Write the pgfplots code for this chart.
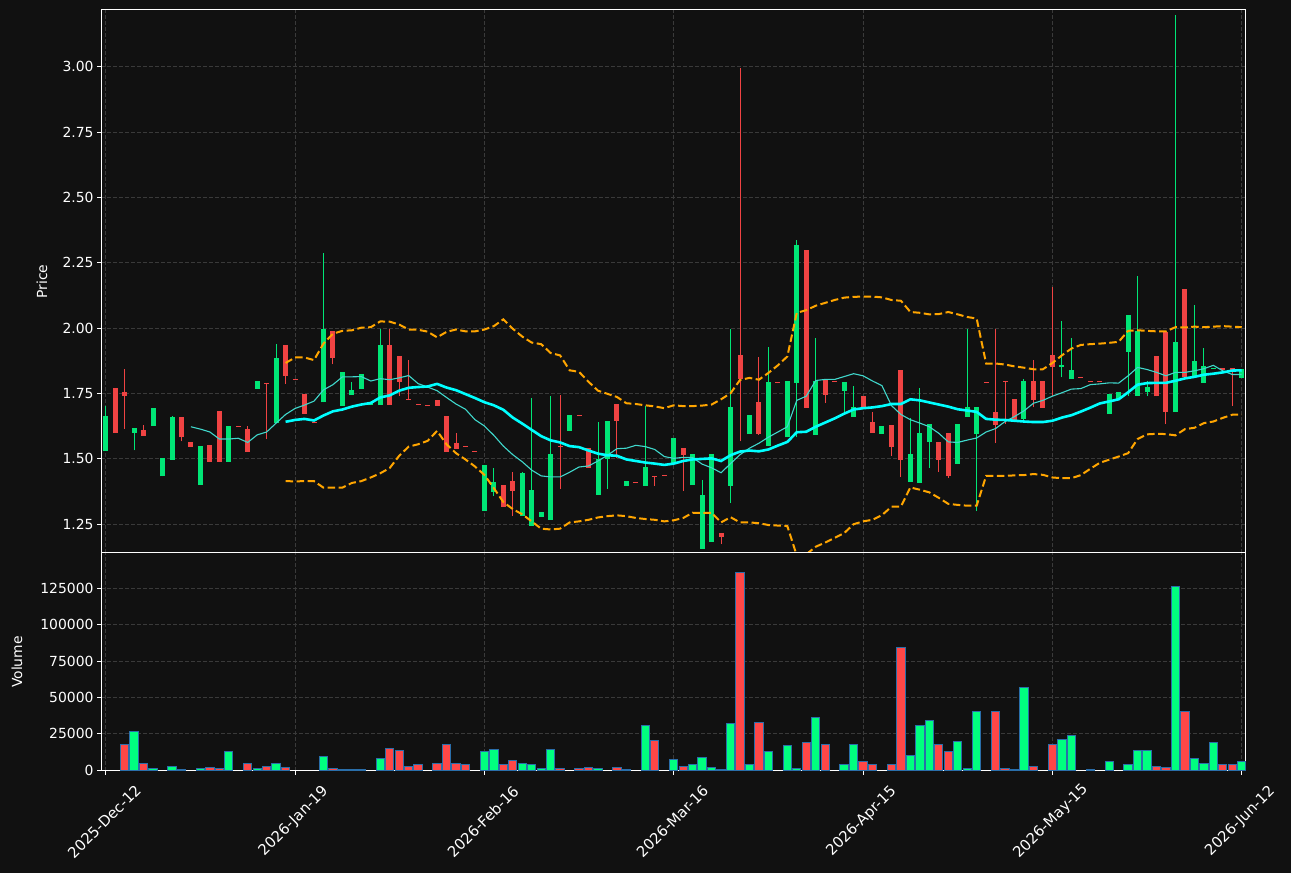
\documentclass[border=0pt]{standalone}
\usepackage{fontspec}
\setmainfont{DejaVu Sans}
\usepackage{pgfplots}
\usepackage{pgfplotstable}
\pgfplotsset{compat=1.18}
\definecolor{bg}{HTML}{111111}
\definecolor{upc}{HTML}{00E676}
\definecolor{dnc}{HTML}{F04343}
\definecolor{vup}{HTML}{00FF7F}
\definecolor{vdn}{HTML}{FF4747}
\definecolor{edge}{HTML}{2A6EAA}
\definecolor{gridc}{HTML}{3A3A3A}
\definecolor{smac}{HTML}{00FFFF}
\definecolor{sma10}{HTML}{40D8CC}
\definecolor{bandc}{HTML}{FFA500}

\pgfplotstableread{
x lo hi bot top
0 1.532 1.704 1.532 1.663
3 1.533 1.618 1.600 1.618
5 1.627 1.694 1.627 1.694
6 1.433 1.504 1.433 1.504
7 1.497 1.664 1.497 1.661
10 1.402 1.549 1.402 1.549
13 1.489 1.626 1.489 1.626
16 1.768 1.798 1.768 1.798
18 1.639 1.939 1.639 1.886
23 1.716 2.288 1.716 1.998
25 1.704 1.833 1.704 1.833
26 1.745 1.796 1.745 1.764
27 1.768 1.825 1.768 1.825
28 1.705 1.713 1.705 1.713
29 1.708 1.996 1.708 1.936
40 1.302 1.477 1.302 1.477
41 1.359 1.466 1.375 1.411
44 1.282 1.450 1.282 1.446
45 1.245 1.733 1.245 1.382
46 1.278 1.297 1.278 1.297
47 1.267 1.740 1.267 1.519
49 1.608 1.667 1.608 1.667
52 1.363 1.643 1.363 1.500
53 1.384 1.645 1.501 1.645
55 1.398 1.415 1.398 1.415
57 1.398 1.704 1.398 1.469
60 1.485 1.580 1.485 1.580
62 1.400 1.519 1.400 1.519
63 1.156 1.418 1.156 1.361
64 1.183 1.519 1.183 1.519
66 1.331 1.996 1.398 1.698
68 1.596 1.667 1.596 1.667
70 1.551 1.928 1.551 1.794
72 1.582 1.798 1.582 1.798
73 1.583 2.336 1.792 2.318
75 1.592 1.961 1.592 1.798
78 1.678 1.794 1.761 1.794
79 1.662 1.778 1.662 1.697
82 1.596 1.626 1.596 1.626
85 1.412 1.655 1.412 1.519
86 1.408 1.771 1.408 1.599
87 1.467 1.634 1.565 1.634
90 1.482 1.634 1.482 1.634
91 1.662 1.996 1.662 1.697
92 1.300 1.698 1.595 1.698
97 1.641 1.805 1.654 1.798
101 1.812 2.027 1.852 1.858
102 1.807 1.961 1.807 1.841
106 1.673 1.748 1.673 1.748
107 1.728 1.756 1.728 1.756
108 1.740 2.050 1.910 2.050
109 1.741 2.199 1.741 1.990
110 1.740 1.798 1.757 1.775
113 1.681 3.197 1.681 1.947
115 1.818 2.088 1.818 1.874
116 1.791 1.923 1.791 1.855
117 1.844 1.848 1.844 1.848
120 1.810 1.843 1.810 1.843
}\up

\pgfplotstableread{
x lo hi bot top
1 1.600 1.771 1.600 1.771
2 1.616 1.843 1.741 1.756
4 1.588 1.630 1.588 1.611
8 1.567 1.661 1.582 1.661
9 1.547 1.564 1.547 1.564
11 1.489 1.553 1.489 1.553
12 1.489 1.684 1.489 1.684
14 1.623 1.627 1.623 1.627
15 1.528 1.625 1.528 1.614
17 1.575 1.790 1.786 1.790
19 1.788 1.936 1.818 1.936
20 1.802 1.806 1.802 1.806
21 1.673 1.748 1.673 1.748
22 1.639 1.643 1.639 1.643
24 1.862 1.990 1.886 1.990
30 1.708 1.996 1.708 1.936
31 1.740 1.894 1.795 1.894
32 1.725 1.877 1.725 1.729
33 1.707 1.711 1.707 1.711
34 1.703 1.707 1.703 1.707
35 1.704 1.725 1.704 1.725
36 1.528 1.663 1.528 1.663
37 1.539 1.598 1.539 1.561
38 1.546 1.550 1.546 1.550
39 1.527 1.531 1.527 1.531
42 1.317 1.400 1.317 1.400
43 1.281 1.450 1.379 1.415
48 1.384 1.745 1.546 1.550
50 1.664 1.668 1.664 1.668
51 1.467 1.541 1.467 1.541
54 1.502 1.710 1.646 1.710
56 1.408 1.412 1.408 1.412
58 1.398 1.434 1.430 1.434
59 1.435 1.439 1.435 1.439
61 1.379 1.541 1.514 1.541
65 1.174 1.216 1.203 1.216
67 1.567 2.995 1.807 1.897
69 1.592 1.889 1.595 1.717
71 1.790 1.794 1.790 1.794
74 1.696 2.300 1.696 2.300
76 1.713 1.802 1.745 1.802
77 1.794 1.798 1.794 1.798
80 1.697 1.740 1.697 1.740
81 1.600 1.678 1.600 1.641
83 1.513 1.630 1.547 1.630
84 1.430 1.841 1.497 1.841
88 1.451 1.564 1.497 1.564
89 1.426 1.599 1.435 1.599
93 1.790 1.794 1.790 1.794
94 1.560 1.996 1.630 1.680
95 1.634 1.798 1.794 1.798
96 1.649 1.729 1.649 1.729
98 1.697 1.877 1.727 1.798
99 1.696 1.798 1.696 1.798
100 1.741 2.156 1.853 1.897
103 1.810 1.814 1.810 1.814
104 1.794 1.798 1.794 1.798
105 1.794 1.798 1.794 1.798
111 1.739 1.894 1.739 1.894
112 1.633 1.986 1.681 1.986
114 1.812 2.151 1.812 2.151
118 1.839 1.847 1.839 1.847
119 1.704 1.846 1.840 1.846
}\down

\pgfplotstableread{
x v
3 26360
5 1450
7 2900
10 1450
13 13060
16 1450
18 4840
23 9670
25 500
26 500
27 500
29 8220
40 12570
41 14500
44 4840
45 4110
46 1450
47 14020
52 1450
55 700
57 30470
60 7740
62 4110
63 8950
64 2200
66 32400
68 4110
70 12570
72 16680
73 1450
75 36510
78 4110
79 17900
85 10400
86 30470
87 33850
90 20070
91 1000
92 40140
97 56580
101 20800
102 24180
106 5800
108 4110
109 13780
110 13780
113 126200
115 8220
116 4840
117 19340
120 6290
}\volup

\pgfplotstableread{
x v
2 17900
4 4840
8 700
11 2200
12 1000
15 4840
17 2900
19 2200
24 1450
30 15230
31 13300
32 2900
33 3630
35 4350
36 17400
37 4350
38 3630
42 3630
43 7010
48 1450
50 1450
51 2200
54 2200
58 20310
61 2900
65 700
67 135900
69 33130
74 19340
76 17400
80 6290
81 3630
83 4110
84 84150
88 17400
89 12570
94 40620
95 1450
96 700
98 2900
100 17900
104 500
111 2900
112 2200
114 40140
118 3630
119 3630
}\voldown

\pgfplotsset{
  common/.style={
    scale only axis, width=1145pt,
    anchor=south west,
    xmin=-0.5, xmax=120.45,
    xtick={0,20,40,60,80,100,120},
    axis line style={white, line width=1pt},
    tick style={white, line width=0.9pt},
    tick align=outside, major tick length=4pt,
    xtick pos=left, ytick pos=left,
    grid=major,
    grid style={draw=gridc, dash pattern=on 4pt off 2pt, line width=0.9pt},
    tick label style={font=\fontsize{13.9}{16}\selectfont, text=white},
    label style={font=\fontsize{13.9}{16}\selectfont, text=white},
    /pgf/number format/assume math mode=true,
  },
  wick/.style={draw=none, mark=none, error bars/.cd, y dir=plus, y explicit, error mark=none,
    error bar style={draw=#1, line width=1pt}},
  body/.style={draw=none, mark=none, error bars/.cd, y dir=plus, y explicit, error mark=none,
    error bar style={draw=#1, line width=5pt}},
}

\begin{document}
\begin{tikzpicture}
\fill[bg] (0pt,0pt) rectangle (1291pt,873pt);

\begin{axis}[common, at={(101pt,320pt)}, height=543pt,
  ymin=1.140, ymax=3.2175,
  ytick={1.25,1.5,1.75,2,2.25,2.5,2.75,3},
  yticklabel style={/pgf/number format/.cd, fixed, fixed zerofill, precision=2},
  xticklabels={}, major x tick style={draw=none},
  ylabel={Price},
  ylabel style={at={(axis description cs:-0.0515,0.5)}, anchor=center},
]
\addplot[wick=upc] table[x=x, y=lo, y error expr=\thisrow{hi}-\thisrow{lo}] {\up};
\addplot[body=upc] table[x=x, y=bot, y error expr=\thisrow{top}-\thisrow{bot}] {\up};
\addplot[wick=dnc] table[x=x, y=lo, y error expr=\thisrow{hi}-\thisrow{lo}] {\down};
\addplot[body=dnc] table[x=x, y=bot, y error expr=\thisrow{top}-\thisrow{bot}] {\down};

% SMA 10
\addplot[sma10, line width=1.1pt] coordinates {(9,1.623)(10,1.614)(11,1.603)(12,1.576)(13,1.576)(14,1.579)(15,1.563)(16,1.592)(17,1.603)(18,1.637)(19,1.670)(20,1.693)(21,1.706)(22,1.721)(23,1.764)(24,1.784)(25,1.814)(26,1.814)(27,1.815)(28,1.798)(29,1.807)(30,1.803)(31,1.810)(32,1.819)(33,1.788)(34,1.775)(35,1.761)(36,1.735)(37,1.710)(38,1.690)(39,1.650)(40,1.626)(41,1.590)(42,1.549)(43,1.516)(44,1.489)(45,1.457)(46,1.435)(47,1.431)(48,1.431)(49,1.449)(50,1.469)(51,1.473)(52,1.492)(53,1.514)(54,1.539)(55,1.541)(56,1.552)(57,1.547)(58,1.536)(59,1.509)(60,1.502)(61,1.506)(62,1.505)(63,1.480)(64,1.466)(65,1.447)(66,1.482)(67,1.516)(68,1.541)(69,1.560)(70,1.583)(71,1.603)(72,1.623)(73,1.724)(74,1.740)(75,1.800)(76,1.804)(77,1.804)(78,1.815)(79,1.826)(80,1.818)(81,1.798)(82,1.780)(83,1.704)(84,1.670)(85,1.650)(86,1.637)(87,1.623)(88,1.598)(89,1.565)(90,1.563)(91,1.572)(92,1.580)(93,1.603)(94,1.616)(95,1.643)(96,1.662)(97,1.684)(98,1.713)(99,1.724)(100,1.740)(101,1.753)(102,1.767)(103,1.769)(104,1.784)(105,1.787)(106,1.791)(107,1.790)(108,1.818)(109,1.850)(110,1.842)(111,1.831)(112,1.818)(113,1.831)(114,1.831)(115,1.837)(116,1.845)(117,1.858)(118,1.837)(119,1.823)(120,1.823)};

% SMA 20
\addplot[smac, line width=2.6pt] coordinates {(19,1.642)(20,1.649)(21,1.653)(22,1.647)(23,1.666)(24,1.682)(25,1.689)(26,1.700)(27,1.708)(28,1.714)(29,1.735)(30,1.743)(31,1.761)(32,1.772)(33,1.775)(34,1.777)(35,1.787)(36,1.773)(37,1.763)(38,1.748)(39,1.733)(40,1.717)(41,1.705)(42,1.688)(43,1.658)(44,1.635)(45,1.611)(46,1.587)(47,1.571)(48,1.563)(49,1.549)(50,1.545)(51,1.532)(52,1.520)(53,1.514)(54,1.512)(55,1.498)(56,1.492)(57,1.486)(58,1.482)(59,1.477)(60,1.482)(61,1.492)(62,1.498)(63,1.500)(64,1.502)(65,1.492)(66,1.514)(67,1.528)(68,1.532)(69,1.529)(70,1.536)(71,1.551)(72,1.565)(73,1.602)(74,1.604)(75,1.623)(76,1.639)(77,1.655)(78,1.673)(79,1.689)(80,1.694)(81,1.697)(82,1.702)(83,1.710)(84,1.710)(85,1.728)(86,1.724)(87,1.716)(88,1.708)(89,1.700)(90,1.690)(91,1.685)(92,1.680)(93,1.653)(94,1.650)(95,1.649)(96,1.646)(97,1.643)(98,1.641)(99,1.641)(100,1.646)(101,1.658)(102,1.667)(103,1.681)(104,1.696)(105,1.712)(106,1.720)(107,1.728)(108,1.755)(109,1.784)(110,1.790)(111,1.791)(112,1.791)(113,1.799)(114,1.808)(115,1.814)(116,1.822)(117,1.826)(118,1.831)(119,1.838)(120,1.839)};

% Bollinger upper
\addplot[bandc, line width=2pt, dash pattern=on 7.5pt off 3.5pt] coordinates {(19,1.867)(20,1.888)(21,1.888)(22,1.878)(23,1.941)(24,1.979)(25,1.990)(26,1.992)(27,2.002)(28,2.004)(29,2.026)(30,2.025)(31,2.014)(32,1.995)(33,1.994)(34,1.987)(35,1.965)(36,1.986)(37,1.995)(38,1.988)(39,1.988)(40,1.995)(41,2.008)(42,2.034)(43,1.998)(44,1.968)(45,1.945)(46,1.939)(47,1.905)(48,1.896)(49,1.839)(50,1.833)(51,1.795)(52,1.761)(53,1.749)(54,1.737)(55,1.713)(56,1.710)(57,1.705)(58,1.701)(59,1.694)(60,1.705)(61,1.702)(62,1.702)(63,1.704)(64,1.708)(65,1.728)(66,1.751)(67,1.802)(68,1.810)(69,1.803)(70,1.829)(71,1.858)(72,1.892)(73,2.059)(74,2.069)(75,2.086)(76,2.097)(77,2.108)(78,2.117)(79,2.120)(80,2.121)(81,2.121)(82,2.118)(83,2.108)(84,2.105)(85,2.062)(86,2.059)(87,2.053)(88,2.054)(89,2.062)(90,2.053)(91,2.043)(92,2.037)(93,1.865)(94,1.865)(95,1.861)(96,1.854)(97,1.849)(98,1.843)(99,1.843)(100,1.867)(101,1.896)(102,1.922)(103,1.936)(104,1.939)(105,1.941)(106,1.944)(107,1.948)(108,1.990)(109,1.992)(110,1.990)(111,1.988)(112,1.988)(113,2.004)(114,2.003)(115,2.006)(116,2.004)(117,2.006)(118,2.008)(119,2.006)(120,2.004)};

% Bollinger lower
\addplot[bandc, line width=2pt, dash pattern=on 7.5pt off 3.5pt] coordinates {(19,1.415)(20,1.414)(21,1.415)(22,1.415)(23,1.390)(24,1.390)(25,1.390)(26,1.408)(27,1.415)(28,1.429)(29,1.445)(30,1.465)(31,1.512)(32,1.547)(33,1.556)(34,1.569)(35,1.607)(36,1.556)(37,1.522)(38,1.498)(39,1.471)(40,1.439)(41,1.388)(42,1.335)(43,1.308)(44,1.288)(45,1.261)(46,1.233)(47,1.230)(48,1.233)(49,1.257)(50,1.261)(51,1.267)(52,1.276)(53,1.281)(54,1.284)(55,1.281)(56,1.274)(57,1.270)(58,1.267)(59,1.261)(60,1.265)(61,1.274)(62,1.294)(63,1.293)(64,1.294)(65,1.257)(66,1.277)(67,1.257)(68,1.257)(69,1.254)(70,1.247)(71,1.245)(72,1.243)(73,1.130)(74,1.135)(75,1.164)(76,1.180)(77,1.198)(78,1.216)(79,1.250)(80,1.261)(81,1.267)(82,1.285)(83,1.317)(84,1.318)(85,1.391)(86,1.382)(87,1.372)(88,1.351)(89,1.328)(90,1.324)(91,1.321)(92,1.321)(93,1.435)(94,1.435)(95,1.435)(96,1.437)(97,1.438)(98,1.442)(99,1.439)(100,1.429)(101,1.426)(102,1.426)(103,1.438)(104,1.462)(105,1.485)(106,1.497)(107,1.509)(108,1.522)(109,1.576)(110,1.594)(111,1.596)(112,1.595)(113,1.590)(114,1.614)(115,1.619)(116,1.637)(117,1.643)(118,1.657)(119,1.669)(120,1.669)};
\end{axis}

\begin{axis}[common, at={(101pt,102pt)}, height=218pt,
  ymin=-500, ymax=149200,
  ytick={0,25000,50000,75000,100000,125000},
  scaled y ticks=false,
  yticklabel style={/pgf/number format/.cd, fixed, precision=0, 1000 sep={}},
  xticklabels={2025-Dec-12,2026-Jan-19,2026-Feb-16,2026-Mar-16,2026-Apr-15,2026-May-15,2026-Jun-12},
  xticklabel style={yshift=-46.5pt, xshift=-1.5pt, rotate=45, anchor=center, font=\fontsize{14.8}{17}\selectfont},
  ylabel={Volume},
  ylabel style={at={(axis description cs:-0.0734,0.5)}, anchor=center},
]
\addplot[ybar, bar width=0.88, bar shift=0pt, fill=vup, draw=edge, line width=1pt] table[x=x, y=v] {\volup};
\addplot[ybar, bar width=0.88, bar shift=0pt, fill=vdn, draw=edge, line width=1pt] table[x=x, y=v] {\voldown};
\end{axis}
\end{tikzpicture}
\end{document}
